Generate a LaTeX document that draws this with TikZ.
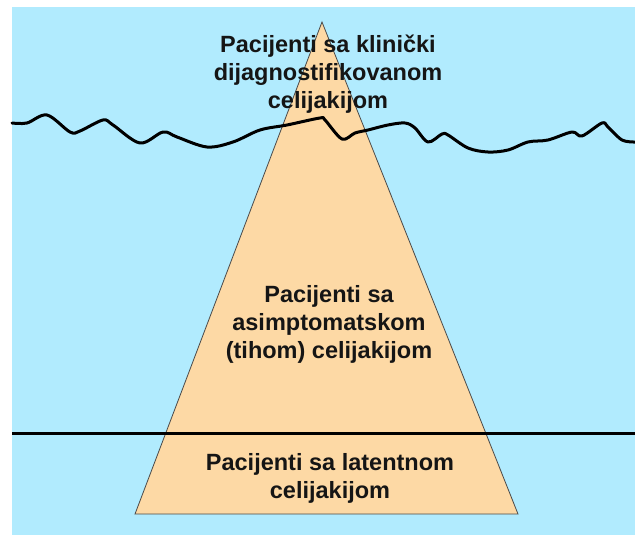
\documentclass[tikz,border=0pt]{standalone}
\usepackage{fontspec}
\setmainfont{Liberation Sans}
\begin{document}
\begin{tikzpicture}[x=1pt,y=-1pt,
  sea/.style={fill=seablue,draw=none},
  berg/.style={fill=bergfill,draw=bergedge,line width=0.8pt,line join=miter},
  waterline/.style={draw=black,line width=3pt,line cap=round,line join=round},
  lbl/.style={align=center,inner sep=0pt,text=labeltext,font=\bfseries\fontsize{23.5}{28}\selectfont}]
\definecolor{seablue}{HTML}{B1EBFE}
\definecolor{bergfill}{HTML}{FDD9A5}
\definecolor{bergedge}{HTML}{4A4A4A}
\definecolor{labeltext}{HTML}{151515}
\useasboundingbox (0,0) rectangle (635,535);
\fill[white] (0,0) rectangle (635,535);
\path[sea] (12,7) rectangle (635,535);
% iceberg
\coordinate (apex) at (322,22);
\coordinate (bl) at (135,514);
\coordinate (br) at (518,514);
\path[berg] (apex) -- (bl) -- (br) -- cycle;
% wavy sea surface
\coordinate (wl) at (12,123);
\coordinate (wr) at (635,142);
\draw[waterline] plot[smooth,tension=0.55] coordinates {
 (12,123) (27,123) (47,115) (70,132) (80,131) (103,120) (113,125) (140,143)
 (163,132) (177,137) (207,147) (233,142) (260,130) (287,125) (320,118) (325,120)
 (342,139) (355,133) (368,130) (388,125) (405,123) (415,128) (428,142) (442,134)
 (448,135) (468,148) (488,152) (508,150) (528,142) (548,140) (572,132) (582,136)
 (602,123) (608,127) (622,140) (635,142)};
% straight line
\coordinate (hl) at (12,433);
\coordinate (hr) at (635,433);
\draw[waterline,line cap=butt] (hl) -- (hr);
% labels
\node[lbl] (top) at (328,74) {Pacijenti sa klinički\\dijagnostifikovanom\\celijakijom};
\node[lbl] (mid) at (329,324) {Pacijenti sa\\asimptomatskom\\(tihom) celijakijom};
\node[lbl] (bot) at (330,478) {Pacijenti sa latentnom\\celijakijom};
\end{tikzpicture}
\end{document}
